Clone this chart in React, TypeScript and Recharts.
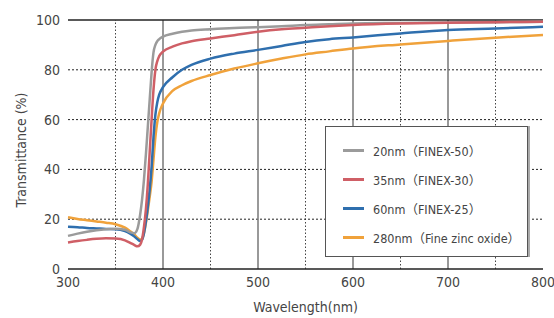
import React from 'react';
import { LineChart, Line, XAxis, YAxis, ReferenceLine } from 'recharts';

const wavelengths = [300,310,320,330,340,350,360,365,370,373,376,378,380,382,384,386,388,390,392,394,396,400,410,420,430,450,475,500,525,550,575,600,650,700,750,800];

const nm20 = [13.3,14.2,15,15.6,16,16.2,15.8,14.8,14.4,16,22,28,36,46,57,68,79,87,90,91.5,92.3,93.3,94.5,95.3,95.8,96.3,96.8,97.1,97.5,98,98.3,98.6,98.8,99,99.1,99.3];
const nm35 = [10.6,11.2,11.7,12.1,12.3,12.2,11.5,10.6,9.6,9.1,9.8,12,17,24,34,47,60,72,80,83.5,85.5,87.3,89.3,90.6,91.5,92.6,93.9,95.3,96.3,96.9,97.5,98,98.6,98.9,99.1,99.3];
const nm60 = [17,16.8,16.5,16.3,16.1,16,15.2,14.3,13,12,11.2,11.8,14.5,19,25,32,41,53,62,67,70,73,77,80,82,84.5,86.5,88,89.6,91.2,92.3,93,94.6,96,96.6,97.3];
const nm280 = [20.8,20.1,19.6,19.1,18.6,18,16.6,15.3,13.8,12.6,11.8,12.2,14.5,18.5,23.5,29,35,44,53,59,62.5,66.5,71.5,73.8,75.5,77.9,80.5,82.6,84.5,86.2,87.4,88.6,90.2,91.6,92.9,94];

const xTicks = [300,400,500,600,700,800];
const yTicks = [0,20,40,60,80,100];
const solidXGrid = [400,500,600,700];
const dottedXGrid = [350,450,550,650,750];
const dottedYGrid = [20,40,60,80];

const seriesNames = ['20nm（FINEX-50）','35nm（FINEX-30）','60nm（FINEX-25）','280nm（Fine zinc oxide）'];
const seriesKeys = ['s20','s35','s60','s280'];
const seriesColors = ['#9b9b9b','#cf5f66','#2f6fae','#f0a23b'];

const data = wavelengths.map((w, i) => ({ w, s20: nm20[i], s35: nm35[i], s60: nm60[i], s280: nm280[i] }));

const FONT = "'DejaVu Sans','Noto Sans CJK JP',sans-serif";
const STRETCH = 'condensed';

const drawOrder = [3, 2, 0, 1];

const LegendBox = () => (
  <div style={{
    position: 'absolute', left: 325, top: 126,
    width: 203, height: 131, boxSizing: 'border-box', background: '#fff',
    border: '1px solid #555', boxShadow: '2px 0 0 #aaa', fontFamily: FONT, fontStretch: STRETCH,
    paddingTop: 9, paddingLeft: 17,
  }}>
    {seriesNames.map((n, i) => (
      <div key={n} style={{ display: 'flex', alignItems: 'center', height: 29, fontSize: 12.5, color: '#444', whiteSpace: 'nowrap' }}>
        <div style={{ width: 21, height: 3, background: seriesColors[i], marginRight: 9 }} />
        <span>{n}</span>
      </div>
    ))}
  </div>
);

const tickStyle = { fill: '#444', fontSize: 14, fontFamily: FONT, style: { fontStretch: STRETCH } };

export default function App() {
  return (
    <div style={{ position: 'absolute', left: 0, top: 0, width: 554, height: 318, background: '#fff', fontFamily: FONT, fontStretch: STRETCH }}>
      <LineChart width={554} height={318} data={data} margin={{ top: 20, right: 11, bottom: 0, left: 0 }}>
        {dottedXGrid.map(x => (
          <ReferenceLine key={'dx' + x} x={x} stroke="#444" strokeDasharray="1.5 2" strokeWidth={1} />
        ))}
        {dottedYGrid.map(y => (
          <ReferenceLine key={'dy' + y} y={y} stroke="#222" strokeDasharray="2 2" strokeWidth={1} />
        ))}
        {solidXGrid.map(x => (
          <ReferenceLine key={'sx' + x} x={x} stroke="#777" strokeWidth={1.5} />
        ))}
        <ReferenceLine y={100} stroke="#222" strokeWidth={1.5} />
        <XAxis
          dataKey="w" type="number" domain={[300, 800]} ticks={xTicks} height={49}
          axisLine={{ stroke: '#222', strokeWidth: 1.5 }} tickLine={false}
          tick={tickStyle}
          label={{ value: 'Wavelength(nm)', position: 'insideBottom', offset: 6, fill: '#444', fontSize: 14, fontFamily: FONT, style: { fontStretch: STRETCH } }}
        />
        <YAxis
          type="number" domain={[0, 100]} ticks={yTicks} width={68}
          axisLine={false} tickLine={false}
          tick={tickStyle}
          label={{
            content: () => (
              <text x={22} y={150} transform="rotate(-90 22 150)" textAnchor="middle" dominantBaseline="middle"
                fill="#444" fontSize={14} fontFamily={FONT} style={{ fontStretch: STRETCH }}>Transmittance (%)</text>
            ),
          }}
        />
        {drawOrder.map(i => (
          <Line key={seriesKeys[i]} dataKey={seriesKeys[i]} name={seriesNames[i]} type="monotone"
            stroke={seriesColors[i]} strokeWidth={2.5} dot={false} activeDot={false} isAnimationActive={false} />
        ))}
      </LineChart>
      <LegendBox />
    </div>
  );
}
